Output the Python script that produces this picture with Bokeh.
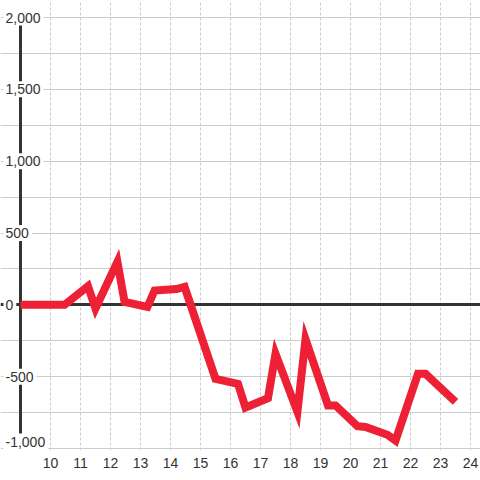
from bokeh.plotting import figure
from bokeh.models import Range1d, FixedTicker, Label
from bokeh.embed import file_html
from bokeh.resources import INLINE

# Data (hour of day, value)
hours = [9.0, 10.47, 11.25, 11.5, 12.23, 12.47, 13.23, 13.47, 14.2, 14.47,
         15.5, 16.25, 16.5, 17.25, 17.5, 18.23, 18.5, 19.25, 19.5, 20.23,
         20.5, 21.23, 21.5, 22.25, 22.5, 23.5]
values = [0, 0, 130, -25, 300, 20, -15, 100, 110, 125,
          -515, -550, -715, -650, -340, -745, -240, -700, -700, -845,
          -850, -905, -945, -480, -480, -675]

x_ticks = [10, 11, 12, 13, 14, 15, 16, 17, 18, 19, 20, 21, 22, 23, 24]
y_grid_values = [-1000, -750, -500, -250, 0, 250, 500, 750, 1000, 1250, 1500, 1750, 2000]
y_tick_values = [2000, 1500, 1000, 500, 0, -500, -1000]
y_tick_labels = ["2,000", "1,500", "1,000", "500", "0", "-500", "-1,000"]
axis_x = [9]
baseline_y = [0]

FONT = "Liberation Sans"
TEXT = "#333333"
GRID = "#cccccc"
RED = "#ed2036"

PX_PER_HOUR = 30.0
X0 = 9 - 20 / PX_PER_HOUR
k = 3000 / 431.0
p = figure(frame_width=480, frame_height=450,
           x_range=Range1d(X0, X0 + 480 / PX_PER_HOUR),
           y_range=Range1d(2000 - 433 * k, 2000 + 17 * k),
           output_backend="svg", toolbar_location=None,
           min_border_left=0, min_border_right=0, min_border_top=0, min_border_bottom=0,
           background_fill_color="white", border_fill_color="white",
           outline_line_color=None)

p.yaxis.fixed_location = 9
p.yaxis.visible = False

# x axis
p.xaxis.ticker = FixedTicker(ticks=x_ticks)
p.xaxis.axis_line_color = None
p.xaxis.major_tick_line_color = None
p.xaxis.minor_tick_line_color = None
p.xaxis.major_tick_out = 0
p.xaxis.major_tick_in = 0
p.xaxis.major_label_standoff = 7
p.xaxis.major_label_text_font = FONT
p.xaxis.major_label_text_font_size = "14px"
p.xaxis.major_label_text_color = TEXT

# grids
p.xgrid.ticker = FixedTicker(ticks=x_ticks)
p.xgrid.grid_line_color = GRID
p.xgrid.grid_line_dash = "3 2"
p.xgrid.grid_line_width = 1
p.ygrid.ticker = FixedTicker(ticks=y_grid_values)
p.ygrid.grid_line_color = GRID
p.ygrid.grid_line_width = 1

# axis line (from lowest to highest tick) and zero line, beneath the data line
p.segment(x0=axis_x, y0=[min(y_grid_values)], x1=axis_x, y1=[max(y_grid_values)],
          line_color=TEXT, line_width=3)
p.hspan(y=baseline_y, line_color=TEXT, line_width=3)

# white boxes behind the y tick labels (hide axis line / grid there)
CHAR_W = {",": 3.9, "-": 4.7}
LABEL_LEFT = 5
lowest = min(y_tick_values)
box_x, box_w, box_y = [], [], []
for v, t in zip(y_tick_values, y_tick_labels):
    w = sum(CHAR_W.get(c, 7.8) for c in t)
    left, right = LABEL_LEFT - 2, LABEL_LEFT + w + 3
    box_x.append(X0 + (left + right) / 2 / PX_PER_HOUR)
    box_w.append(right - left)
    box_y.append(v + (7 * k if v == lowest else 0))
p.rect(x=box_x, y=box_y, width=box_w, height=16, width_units="screen",
       height_units="screen", fill_color="white", line_color=None)

# data line
p.line(hours, values, line_color=RED, line_width=8, line_join="miter")

# y tick labels
for v, t in zip(y_tick_values, y_tick_labels):
    p.add_layout(Label(x=LABEL_LEFT, x_units="screen", y=v, text=t,
                       y_offset=7 if v == lowest else 0, level="overlay",
                       text_align="left", text_baseline="middle",
                       text_font=FONT, text_font_size="14px", text_color=TEXT))

open("out.html", "w").write(file_html(p, INLINE))
